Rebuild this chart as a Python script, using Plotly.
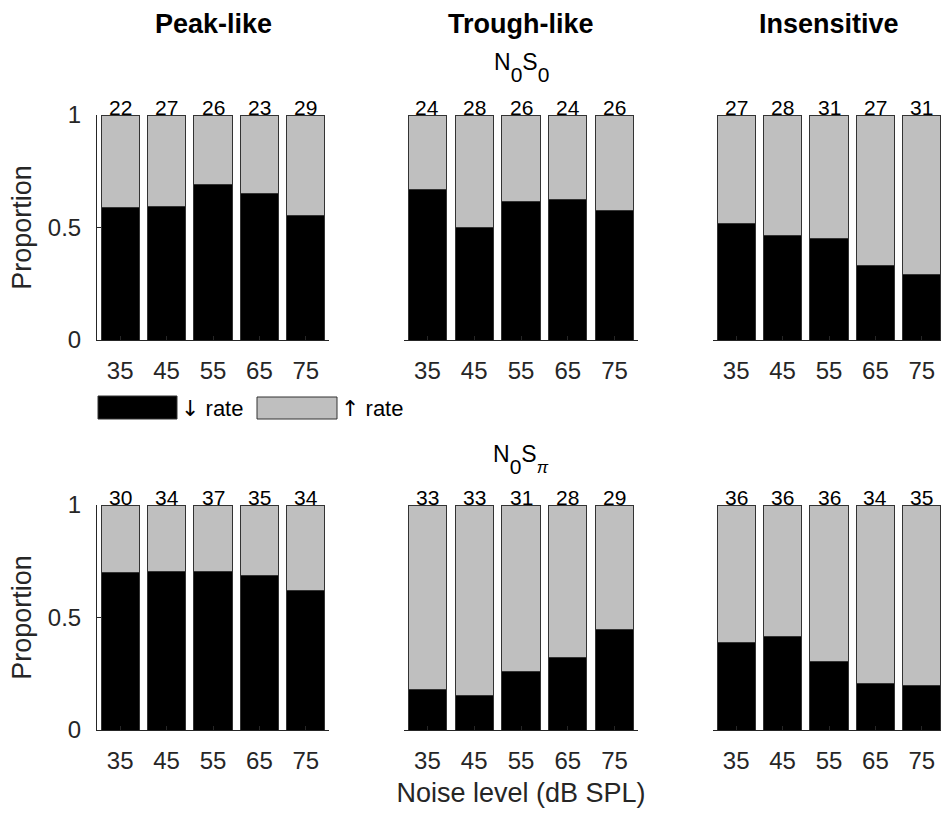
import plotly.graph_objects as go

# Noise levels (dB SPL) on the x axis
levels = ["35", "45", "55", "65", "75"]
groups = ["Peak-like", "Trough-like", "Insensitive"]

# Proportion of units whose rate decreased (N0S0 condition)
down_n0s0_peak = [0.591, 0.593, 0.692, 0.652, 0.552]
down_n0s0_trough = [0.667, 0.500, 0.615, 0.625, 0.577]
down_n0s0_insens = [0.519, 0.464, 0.452, 0.333, 0.290]

# Proportion of units whose rate decreased (N0Spi condition)
down_n0spi_peak = [0.700, 0.706, 0.703, 0.686, 0.618]
down_n0spi_trough = [0.182, 0.152, 0.258, 0.321, 0.448]
down_n0spi_insens = [0.389, 0.417, 0.306, 0.206, 0.200]

# Number of units per bar
n_n0s0_peak = [22, 27, 26, 23, 29]
n_n0s0_trough = [24, 28, 26, 24, 26]
n_n0s0_insens = [27, 28, 31, 27, 31]
n_n0spi_peak = [30, 34, 37, 35, 34]
n_n0spi_trough = [33, 33, 31, 28, 29]
n_n0spi_insens = [36, 36, 36, 34, 35]

rows = [
    [(down_n0s0_peak, n_n0s0_peak), (down_n0s0_trough, n_n0s0_trough), (down_n0s0_insens, n_n0s0_insens)],
    [(down_n0spi_peak, n_n0spi_peak), (down_n0spi_trough, n_n0spi_trough), (down_n0spi_insens, n_n0spi_insens)],
]

W, H = 941, 814
FONT = "Liberation Sans, Arial, sans-serif"
AX = "#262626"
BLACK = "#000000"
GREY = "#bfbfbf"
EDGE = "#333333"


def px(x):
    return x / W


def py(y):
    return 1 - y / H


# panel placement in pixels (left, right) and (top, bottom)
col_px = [(97, 329), (404, 638), (713, 941)]
row_px = [(115, 340), (505, 730)]
# rightmost column runs off the page edge
col_range = [[-0.5, 4.5], [-0.5, 4.5], [-0.5, 4.414]]

fig = go.Figure()
annotations = []
layout_axes = {}

k = 0
for r, row in enumerate(rows):
    for c, (down, counts) in enumerate(row):
        k += 1
        xa = "x" if k == 1 else f"x{k}"
        ya = "y" if k == 1 else f"y{k}"
        up = [round(1 - d, 3) for d in down]
        fig.add_trace(go.Bar(
            x=levels, y=down, xaxis=xa, yaxis=ya, width=0.82,
            marker=dict(color=BLACK, line=dict(color=EDGE, width=1)),
            showlegend=False, hoverinfo="y",
        ))
        fig.add_trace(go.Bar(
            x=levels, y=up, xaxis=xa, yaxis=ya, width=0.82,
            marker=dict(color=GREY, line=dict(color=EDGE, width=1)),
            showlegend=False, hoverinfo="y",
        ))
        # unit counts above each bar (category index positions)
        for i, n in enumerate(counts):
            annotations.append(dict(
                x=i, y=1, xref=xa, yref=ya, text=str(n), showarrow=False,
                yanchor="bottom", yshift=-6, font=dict(size=21, color="black", family=FONT),
            ))
        l, rgt = col_px[c]
        t, b = row_px[r]
        first = c == 0
        xaxis = dict(
            domain=[px(l), px(rgt)], anchor=ya, range=col_range[c],
            type="category", showline=True, linecolor=AX, linewidth=1,
            ticks="inside", ticklen=4, tickcolor=AX, showgrid=False, zeroline=False,
            tickfont=dict(size=24, color=AX, family=FONT), ticklabelstandoff=9,
            automargin=False, fixedrange=True,
        )
        if r == 1 and c == 1:
            xaxis["title"] = dict(text="Noise level (dB SPL)",
                                  font=dict(size=27, color=AX, family=FONT), standoff=10)
        yaxis = dict(
            domain=[py(b), py(t)], anchor=xa, range=[0, 1],
            showline=first, linecolor=AX, linewidth=1,
            ticks="inside" if first else "", ticklen=4, tickcolor=AX,
            showticklabels=first, tickvals=[0, 0.5, 1], ticktext=["0", "0.5", "1"],
            tickfont=dict(size=24, color=AX, family=FONT), ticklabelstandoff=10,
            showgrid=False, zeroline=False,
            automargin=False, fixedrange=True,
        )
        if first:
            yaxis["title"] = dict(text="Proportion",
                                  font=dict(size=27, color=AX, family=FONT), standoff=8)
        layout_axes["xaxis" if k == 1 else f"xaxis{k}"] = xaxis
        layout_axes["yaxis" if k == 1 else f"yaxis{k}"] = yaxis

# column headings
for name, (l, rgt) in zip(groups, [(97, 329), (404, 638), (713, 945)]):
    annotations.append(dict(
        x=px((l + rgt) / 2), y=py(24), xref="paper", yref="paper",
        text=f"<b>{name}</b>", showarrow=False, xanchor="center", yanchor="middle",
        font=dict(size=27, color="black", family=FONT),
    ))

# condition labels with deep subscripts
SUB = "<sub><span style='font-size:21px;baseline-shift:-7px'>{}</span></sub>"
SUB_PI = "<sub><span style='font-size:17px;baseline-shift:-6px'><i>π</i></span></sub>"
annotations.append(dict(
    x=px(521), y=py(47), xref="paper", yref="paper",
    text="N" + SUB.format("0") + "S" + SUB.format("0"), showarrow=False,
    font=dict(size=23, color="black", family=FONT),
))
annotations.append(dict(
    x=px(521), y=py(459), xref="paper", yref="paper",
    text="N" + SUB.format("0") + "S" + SUB_PI, showarrow=False,
    font=dict(size=23, color="black", family=FONT),
))

# legend swatches and labels
shapes = [
    dict(type="rect", xref="paper", yref="paper", x0=px(98), x1=px(177), y0=py(419), y1=py(396),
         fillcolor=BLACK, line=dict(color=EDGE, width=1)),
    dict(type="rect", xref="paper", yref="paper", x0=px(257), x1=px(337), y0=py(419), y1=py(397),
         fillcolor=GREY, line=dict(color=EDGE, width=1)),
]
ARROW = "<span style='font-family:DejaVu Sans;font-size:22px'>{}</span> rate"
annotations.append(dict(
    x=px(179), y=py(409), xref="paper", yref="paper", text=ARROW.format("↓"), showarrow=False,
    xanchor="left", yanchor="middle", font=dict(size=22, color="black", family=FONT),
))
annotations.append(dict(
    x=px(339), y=py(409), xref="paper", yref="paper", text=ARROW.format("↑"), showarrow=False,
    xanchor="left", yanchor="middle", font=dict(size=22, color="black", family=FONT),
))

fig.update_layout(
    width=W, height=H, margin=dict(l=0, r=0, t=0, b=0, autoexpand=False),
    barmode="stack", bargap=0.18,
    plot_bgcolor="white", paper_bgcolor="white",
    font=dict(family=FONT, color=AX),
    annotations=annotations, shapes=shapes,
    **layout_axes,
)

fig.write_html("out.html")
